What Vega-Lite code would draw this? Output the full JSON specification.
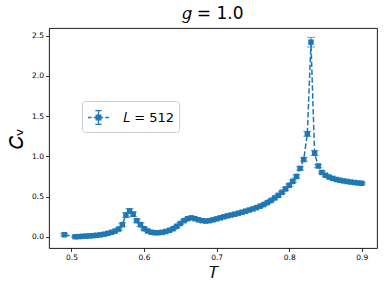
{
  "$schema": "https://vega.github.io/schema/vega-lite/v6.json",
  "width": 328,
  "height": 220,
  "autosize": {"type": "none"},
  "padding": {"left": 49, "top": 28, "right": 9, "bottom": 42},
  "background": "white",
  "title": {"text": "𝑔 = 1.0", "fontSize": 17, "font": "DejaVu Sans", "fontWeight": "normal", "color": "black", "offset": 5},
  "config": {
    "view": {"stroke": "black", "strokeWidth": 0.9},
    "axis": {"grid": false, "domain": false, "tickColor": "black", "tickSize": 3.5, "tickWidth": 0.8, "labelFont": "DejaVu Sans", "labelFontSize": 7.5, "labelColor": "black", "titleFont": "DejaVu Sans", "titleFontWeight": "normal", "titleColor": "black", "titleFontSize": 16, "labelPadding": 2}
  },
  "data": {"values": [
    {"T": 0.49, "Cv": 0.025, "lo": 0.01, "hi": 0.04, "s": "L = 512"},
    {"T": 0.505, "Cv": 0.0, "lo": -0.01, "hi": 0.01, "s": "L = 512"},
    {"T": 0.51, "Cv": 0.002, "lo": -0.008, "hi": 0.012, "s": "L = 512"},
    {"T": 0.515, "Cv": 0.005, "lo": -0.005, "hi": 0.015, "s": "L = 512"},
    {"T": 0.52, "Cv": 0.008, "lo": -0.002, "hi": 0.018, "s": "L = 512"},
    {"T": 0.525, "Cv": 0.01, "lo": 0.0, "hi": 0.02, "s": "L = 512"},
    {"T": 0.53, "Cv": 0.014, "lo": 0.004, "hi": 0.024, "s": "L = 512"},
    {"T": 0.535, "Cv": 0.018, "lo": 0.008, "hi": 0.028, "s": "L = 512"},
    {"T": 0.54, "Cv": 0.024, "lo": 0.014, "hi": 0.034, "s": "L = 512"},
    {"T": 0.545, "Cv": 0.032, "lo": 0.022, "hi": 0.042, "s": "L = 512"},
    {"T": 0.55, "Cv": 0.042, "lo": 0.032, "hi": 0.052, "s": "L = 512"},
    {"T": 0.555, "Cv": 0.055, "lo": 0.045, "hi": 0.065, "s": "L = 512"},
    {"T": 0.56, "Cv": 0.07, "lo": 0.06, "hi": 0.08, "s": "L = 512"},
    {"T": 0.565, "Cv": 0.095, "lo": 0.08, "hi": 0.11, "s": "L = 512"},
    {"T": 0.57, "Cv": 0.15, "lo": 0.13, "hi": 0.17, "s": "L = 512"},
    {"T": 0.575, "Cv": 0.27, "lo": 0.24, "hi": 0.3, "s": "L = 512"},
    {"T": 0.58, "Cv": 0.32, "lo": 0.29, "hi": 0.35, "s": "L = 512"},
    {"T": 0.585, "Cv": 0.28, "lo": 0.25, "hi": 0.31, "s": "L = 512"},
    {"T": 0.59, "Cv": 0.2, "lo": 0.18, "hi": 0.22, "s": "L = 512"},
    {"T": 0.595, "Cv": 0.15, "lo": 0.13, "hi": 0.17, "s": "L = 512"},
    {"T": 0.6, "Cv": 0.1, "lo": 0.085, "hi": 0.115, "s": "L = 512"},
    {"T": 0.605, "Cv": 0.072, "lo": 0.062, "hi": 0.082, "s": "L = 512"},
    {"T": 0.61, "Cv": 0.056, "lo": 0.046, "hi": 0.066, "s": "L = 512"},
    {"T": 0.615, "Cv": 0.05, "lo": 0.04, "hi": 0.06, "s": "L = 512"},
    {"T": 0.62, "Cv": 0.05, "lo": 0.04, "hi": 0.06, "s": "L = 512"},
    {"T": 0.625, "Cv": 0.055, "lo": 0.045, "hi": 0.065, "s": "L = 512"},
    {"T": 0.63, "Cv": 0.065, "lo": 0.055, "hi": 0.075, "s": "L = 512"},
    {"T": 0.635, "Cv": 0.08, "lo": 0.07, "hi": 0.09, "s": "L = 512"},
    {"T": 0.64, "Cv": 0.1, "lo": 0.09, "hi": 0.11, "s": "L = 512"},
    {"T": 0.645, "Cv": 0.13, "lo": 0.12, "hi": 0.14, "s": "L = 512"},
    {"T": 0.65, "Cv": 0.165, "lo": 0.155, "hi": 0.175, "s": "L = 512"},
    {"T": 0.655, "Cv": 0.2, "lo": 0.19, "hi": 0.21, "s": "L = 512"},
    {"T": 0.66, "Cv": 0.225, "lo": 0.215, "hi": 0.235, "s": "L = 512"},
    {"T": 0.665, "Cv": 0.235, "lo": 0.225, "hi": 0.245, "s": "L = 512"},
    {"T": 0.67, "Cv": 0.225, "lo": 0.215, "hi": 0.235, "s": "L = 512"},
    {"T": 0.675, "Cv": 0.21, "lo": 0.2, "hi": 0.22, "s": "L = 512"},
    {"T": 0.68, "Cv": 0.2, "lo": 0.19, "hi": 0.21, "s": "L = 512"},
    {"T": 0.685, "Cv": 0.195, "lo": 0.185, "hi": 0.205, "s": "L = 512"},
    {"T": 0.69, "Cv": 0.2, "lo": 0.19, "hi": 0.21, "s": "L = 512"},
    {"T": 0.695, "Cv": 0.21, "lo": 0.2, "hi": 0.22, "s": "L = 512"},
    {"T": 0.7, "Cv": 0.222, "lo": 0.212, "hi": 0.232, "s": "L = 512"},
    {"T": 0.705, "Cv": 0.235, "lo": 0.225, "hi": 0.245, "s": "L = 512"},
    {"T": 0.71, "Cv": 0.248, "lo": 0.238, "hi": 0.258, "s": "L = 512"},
    {"T": 0.715, "Cv": 0.26, "lo": 0.25, "hi": 0.27, "s": "L = 512"},
    {"T": 0.72, "Cv": 0.27, "lo": 0.26, "hi": 0.28, "s": "L = 512"},
    {"T": 0.725, "Cv": 0.28, "lo": 0.27, "hi": 0.29, "s": "L = 512"},
    {"T": 0.73, "Cv": 0.293, "lo": 0.283, "hi": 0.303, "s": "L = 512"},
    {"T": 0.735, "Cv": 0.305, "lo": 0.295, "hi": 0.315, "s": "L = 512"},
    {"T": 0.74, "Cv": 0.318, "lo": 0.308, "hi": 0.328, "s": "L = 512"},
    {"T": 0.745, "Cv": 0.332, "lo": 0.322, "hi": 0.342, "s": "L = 512"},
    {"T": 0.75, "Cv": 0.346, "lo": 0.336, "hi": 0.356, "s": "L = 512"},
    {"T": 0.755, "Cv": 0.362, "lo": 0.352, "hi": 0.372, "s": "L = 512"},
    {"T": 0.76, "Cv": 0.38, "lo": 0.37, "hi": 0.39, "s": "L = 512"},
    {"T": 0.765, "Cv": 0.4, "lo": 0.39, "hi": 0.41, "s": "L = 512"},
    {"T": 0.77, "Cv": 0.425, "lo": 0.415, "hi": 0.435, "s": "L = 512"},
    {"T": 0.775, "Cv": 0.452, "lo": 0.442, "hi": 0.462, "s": "L = 512"},
    {"T": 0.78, "Cv": 0.482, "lo": 0.47, "hi": 0.494, "s": "L = 512"},
    {"T": 0.785, "Cv": 0.515, "lo": 0.503, "hi": 0.527, "s": "L = 512"},
    {"T": 0.79, "Cv": 0.553, "lo": 0.54, "hi": 0.566, "s": "L = 512"},
    {"T": 0.795, "Cv": 0.595, "lo": 0.58, "hi": 0.61, "s": "L = 512"},
    {"T": 0.8, "Cv": 0.64, "lo": 0.625, "hi": 0.655, "s": "L = 512"},
    {"T": 0.805, "Cv": 0.69, "lo": 0.675, "hi": 0.705, "s": "L = 512"},
    {"T": 0.81, "Cv": 0.75, "lo": 0.73, "hi": 0.77, "s": "L = 512"},
    {"T": 0.815, "Cv": 0.85, "lo": 0.83, "hi": 0.87, "s": "L = 512"},
    {"T": 0.82, "Cv": 0.96, "lo": 0.94, "hi": 0.98, "s": "L = 512"},
    {"T": 0.825, "Cv": 1.28, "lo": 1.25, "hi": 1.31, "s": "L = 512"},
    {"T": 0.83, "Cv": 2.42, "lo": 2.36, "hi": 2.48, "s": "L = 512"},
    {"T": 0.835, "Cv": 1.04, "lo": 1.01, "hi": 1.07, "s": "L = 512"},
    {"T": 0.84, "Cv": 0.88, "lo": 0.86, "hi": 0.9, "s": "L = 512"},
    {"T": 0.845, "Cv": 0.8, "lo": 0.785, "hi": 0.815, "s": "L = 512"},
    {"T": 0.85, "Cv": 0.765, "lo": 0.752, "hi": 0.778, "s": "L = 512"},
    {"T": 0.855, "Cv": 0.742, "lo": 0.73, "hi": 0.754, "s": "L = 512"},
    {"T": 0.86, "Cv": 0.725, "lo": 0.713, "hi": 0.737, "s": "L = 512"},
    {"T": 0.865, "Cv": 0.712, "lo": 0.7, "hi": 0.724, "s": "L = 512"},
    {"T": 0.87, "Cv": 0.702, "lo": 0.692, "hi": 0.712, "s": "L = 512"},
    {"T": 0.875, "Cv": 0.694, "lo": 0.684, "hi": 0.704, "s": "L = 512"},
    {"T": 0.88, "Cv": 0.687, "lo": 0.677, "hi": 0.697, "s": "L = 512"},
    {"T": 0.885, "Cv": 0.68, "lo": 0.67, "hi": 0.69, "s": "L = 512"},
    {"T": 0.89, "Cv": 0.674, "lo": 0.664, "hi": 0.684, "s": "L = 512"},
    {"T": 0.895, "Cv": 0.669, "lo": 0.659, "hi": 0.679, "s": "L = 512"},
    {"T": 0.9, "Cv": 0.665, "lo": 0.655, "hi": 0.675, "s": "L = 512"}
  ]},
  "encoding": {
    "x": {"field": "T", "type": "quantitative", "scale": {"domain": [0.469, 0.921], "nice": false, "zero": false},
      "axis": {"values": [0.5, 0.6, 0.7, 0.8, 0.9], "format": ".1f", "title": "𝑇", "titlePadding": 3}}
  },
  "layer": [
    {"mark": {"type": "rule", "color": "#1f77b4", "strokeWidth": 1},
     "encoding": {"y": {"field": "lo", "type": "quantitative"}, "y2": {"field": "hi"}}},
    {"mark": {"type": "tick", "color": "#1f77b4", "orient": "horizontal", "size": 8, "thickness": 1},
     "encoding": {"y": {"field": "lo", "type": "quantitative"}}},
    {"mark": {"type": "tick", "color": "#1f77b4", "orient": "horizontal", "size": 8, "thickness": 1},
     "encoding": {"y": {"field": "hi", "type": "quantitative"}}},
    {"mark": {"type": "line", "color": "#1f77b4", "strokeWidth": 1.5, "strokeDash": [5.5, 2.4]},
     "encoding": {"y": {"field": "Cv", "type": "quantitative"}}},
    {"mark": {"type": "point", "shape": "square", "filled": true, "size": 30, "opacity": 1},
     "encoding": {
       "y": {"field": "Cv", "type": "quantitative", "scale": {"domain": [-0.14, 2.596], "nice": false, "zero": false},
         "axis": {"values": [0, 0.5, 1, 1.5, 2, 2.5], "format": ".1f", "title": "𝐶ᵥ", "titlePadding": 5, "titleFontSize": 19}},
       "color": {"field": "s", "type": "nominal", "scale": {"range": ["#1f77b4"]},
         "legend": {"title": null, "orient": "none", "legendX": 33, "legendY": 73,
           "labelExpr": "'𝐿 = 512'",
           "labelFont": "DejaVu Sans", "labelFontSize": 13, "labelColor": "black",
           "symbolType": "M-1,0H-0.65M-0.45,0H-0.12M0.12,0H0.45M0.65,0H1M0,-0.65V0.65M-0.3,-0.65H0.3M-0.3,0.65H0.3M-0.22,-0.22H0.22V0.22H-0.22Z",
           "symbolSize": 441, "symbolStrokeWidth": 1.3, "symbolFillColor": "#1f77b4", "symbolStrokeColor": "#1f77b4", "symbolOpacity": 1,
           "padding": 5, "strokeColor": "#cccccc", "fillColor": "white", "cornerRadius": 3, "labelOffset": 13}}
     }}
  ]
}
